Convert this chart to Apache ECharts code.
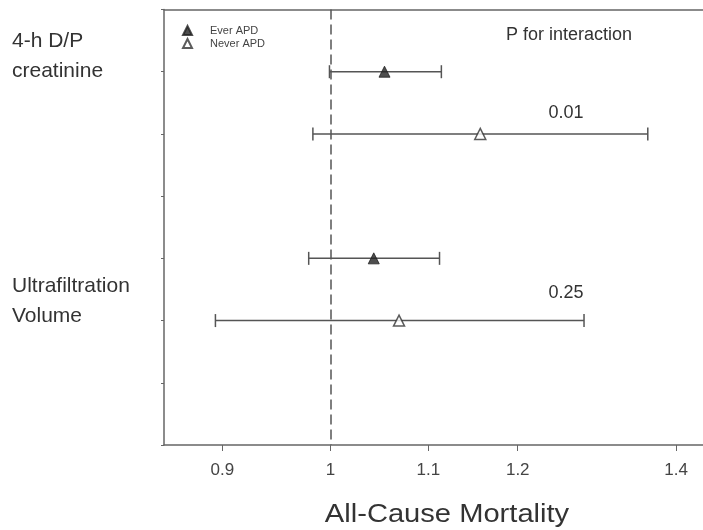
<!DOCTYPE html>
<html>
<head>
<meta charset="utf-8">
<script src="https://cdn.jsdelivr.net/npm/echarts@6/dist/echarts.min.js"></script>
<style>html,body{margin:0;padding:0;background:#fff;}#c{width:703px;height:530px;}</style>
</head>
<body>
<div id="c"></div>
<script>
// ---- data ----
const groups = ['Ever APD', 'Never APD'];
const groupLabels = ['4-h D/P\ncreatinine', 'Ultrafiltration\nVolume'];
const everRow = [1, 4];
const everHR = [1.054, 1.043];
const everLo = [0.999, 0.979];
const everHi = [1.114, 1.112];
const neverRow = [2, 5];
const neverHR = [1.157, 1.069];
const neverLo = [0.983, 0.894];
const neverHi = [1.362, 1.280];
const pValues = ['0.01', '0.25'];
const tickValues = [0.9, 1, 1.1, 1.2, 1.4];
const tickLabels = ['0.9', '1', '1.1', '1.2', '1.4'];
const axisTitle = 'All-Cause Mortality';
const pTitle = 'P for interaction';

const L = Math.log;
const lnTicks = tickValues.map(L);
const pts = (hr, row) => hr.map((v, i) => [L(v), row[i]]);
const bars = (lo, hi, row) => lo.map((v, i) => [L(v), L(hi[i]), row[i]]);

const chart = echarts.init(document.getElementById('c'), null, {renderer: 'canvas'});
const lineColor = '#555';
const axisColor = '#666';

function renderBar(params, api) {
  const a = api.coord([api.value(0), api.value(2)]);
  const b = api.coord([api.value(1), api.value(2)]);
  const h = 6.5;
  const st = {stroke: lineColor, lineWidth: 1.5};
  return {type: 'group', children: [
    {type: 'line', shape: {x1: a[0], y1: a[1], x2: b[0], y2: b[1]}, style: st},
    {type: 'line', shape: {x1: a[0], y1: a[1] - h, x2: a[0], y2: a[1] + h}, style: st},
    {type: 'line', shape: {x1: b[0], y1: b[1] - h, x2: b[0], y2: b[1] + h}, style: st}
  ]};
}

const font = 'Liberation Sans, Arial, sans-serif';
const xMin = -0.16212, xMax = 0.36271;
chart.setOption({
  backgroundColor: '#fff',
  animation: false,
  grid: {left: 164, top: 9.5, bottom: 85, right: 0, show: false},
  legend: {
    data: groups, orient: 'vertical', left: 177, top: 19,
    itemWidth: 9, itemHeight: 9, itemGap: 0,
    textStyle: {fontFamily: font, fontSize: 11, color: '#444', lineHeight: 13, padding: [0, 0, 0, 13]}
  },
  xAxis: [{
    type: 'value', min: xMin, max: xMax, position: 'bottom',
    axisLine: {show: true, onZero: false, lineStyle: {color: axisColor, width: 1.5}},
    axisTick: {show: true, length: 6, customValues: lnTicks, lineStyle: {color: axisColor}},
    axisLabel: {show: true, customValues: lnTicks, margin: 17, fontFamily: 'Liberation Sans Narrow, Arial, sans-serif', fontSize: 17, color: '#444',
      formatter: v => { let k = 0, d = 1e9; lnTicks.forEach((t, i) => { if (Math.abs(t - v) < d) { d = Math.abs(t - v); k = i; } }); return tickLabels[k]; }},
    splitLine: {show: false}
  }, {
    type: 'value', min: xMin, max: xMax, position: 'top',
    axisLine: {show: true, onZero: false, lineStyle: {color: axisColor, width: 1.5}},
    axisTick: {show: false}, axisLabel: {show: false}, splitLine: {show: false}
  }],
  yAxis: {
    type: 'value', inverse: true, min: 0, max: 7, interval: 1,
    axisLine: {show: true, onZero: false, lineStyle: {color: axisColor, width: 1.5}},
    axisTick: {show: true, length: 3, lineStyle: {color: axisColor}},
    axisLabel: {show: false}, splitLine: {show: false}
  },
  series: [
    {type: 'custom', name: 'ciEver', renderItem: renderBar, data: bars(everLo, everHi, everRow), encode: {x: [0, 1], y: 2}, z: 2,
      markLine: {silent: true, symbol: 'none', label: {show: false}, lineStyle: {color: lineColor, width: 1.5, type: [10, 5]}, data: [{xAxis: 0}]}},
    {type: 'custom', name: 'ciNever', renderItem: renderBar, data: bars(neverLo, neverHi, neverRow), encode: {x: [0, 1], y: 2}, z: 2},
    {type: 'scatter', name: groups[0], data: pts(everHR, everRow), symbol: 'triangle', symbolSize: 11,
      itemStyle: {color: '#222', borderColor: '#222', borderWidth: 1}, z: 5},
    {type: 'scatter', name: groups[1], data: pts(neverHR, neverRow), symbol: 'triangle', symbolSize: 11,
      itemStyle: {color: '#fff', borderColor: '#333', borderWidth: 1.5}, z: 5}
  ],
  graphic: [
    {type: 'text', left: 12, top: 26, style: {text: groupLabels[0], font: '21px ' + font, fill: '#333', lineHeight: 30}},
    {type: 'text', left: 12, top: 271, style: {text: groupLabels[1], font: '21px ' + font, fill: '#333', lineHeight: 30}},
    {type: 'text', x: 569, y: 35, style: {text: pTitle, font: '18px ' + font, fill: '#333', align: 'center', verticalAlign: 'middle'}},
    {type: 'text', x: 566, y: 113, style: {text: pValues[0], font: '18px ' + font, fill: '#333', align: 'center', verticalAlign: 'middle'}},
    {type: 'text', x: 566, y: 293, style: {text: pValues[1], font: '18px ' + font, fill: '#333', align: 'center', verticalAlign: 'middle'}},
    {type: 'text', x: 447, y: 515, scaleX: 1.12, style: {text: axisTitle, font: '26px ' + font, fill: '#333', align: 'center', verticalAlign: 'middle'}}
  ]
});
</script>
</body>
</html>
